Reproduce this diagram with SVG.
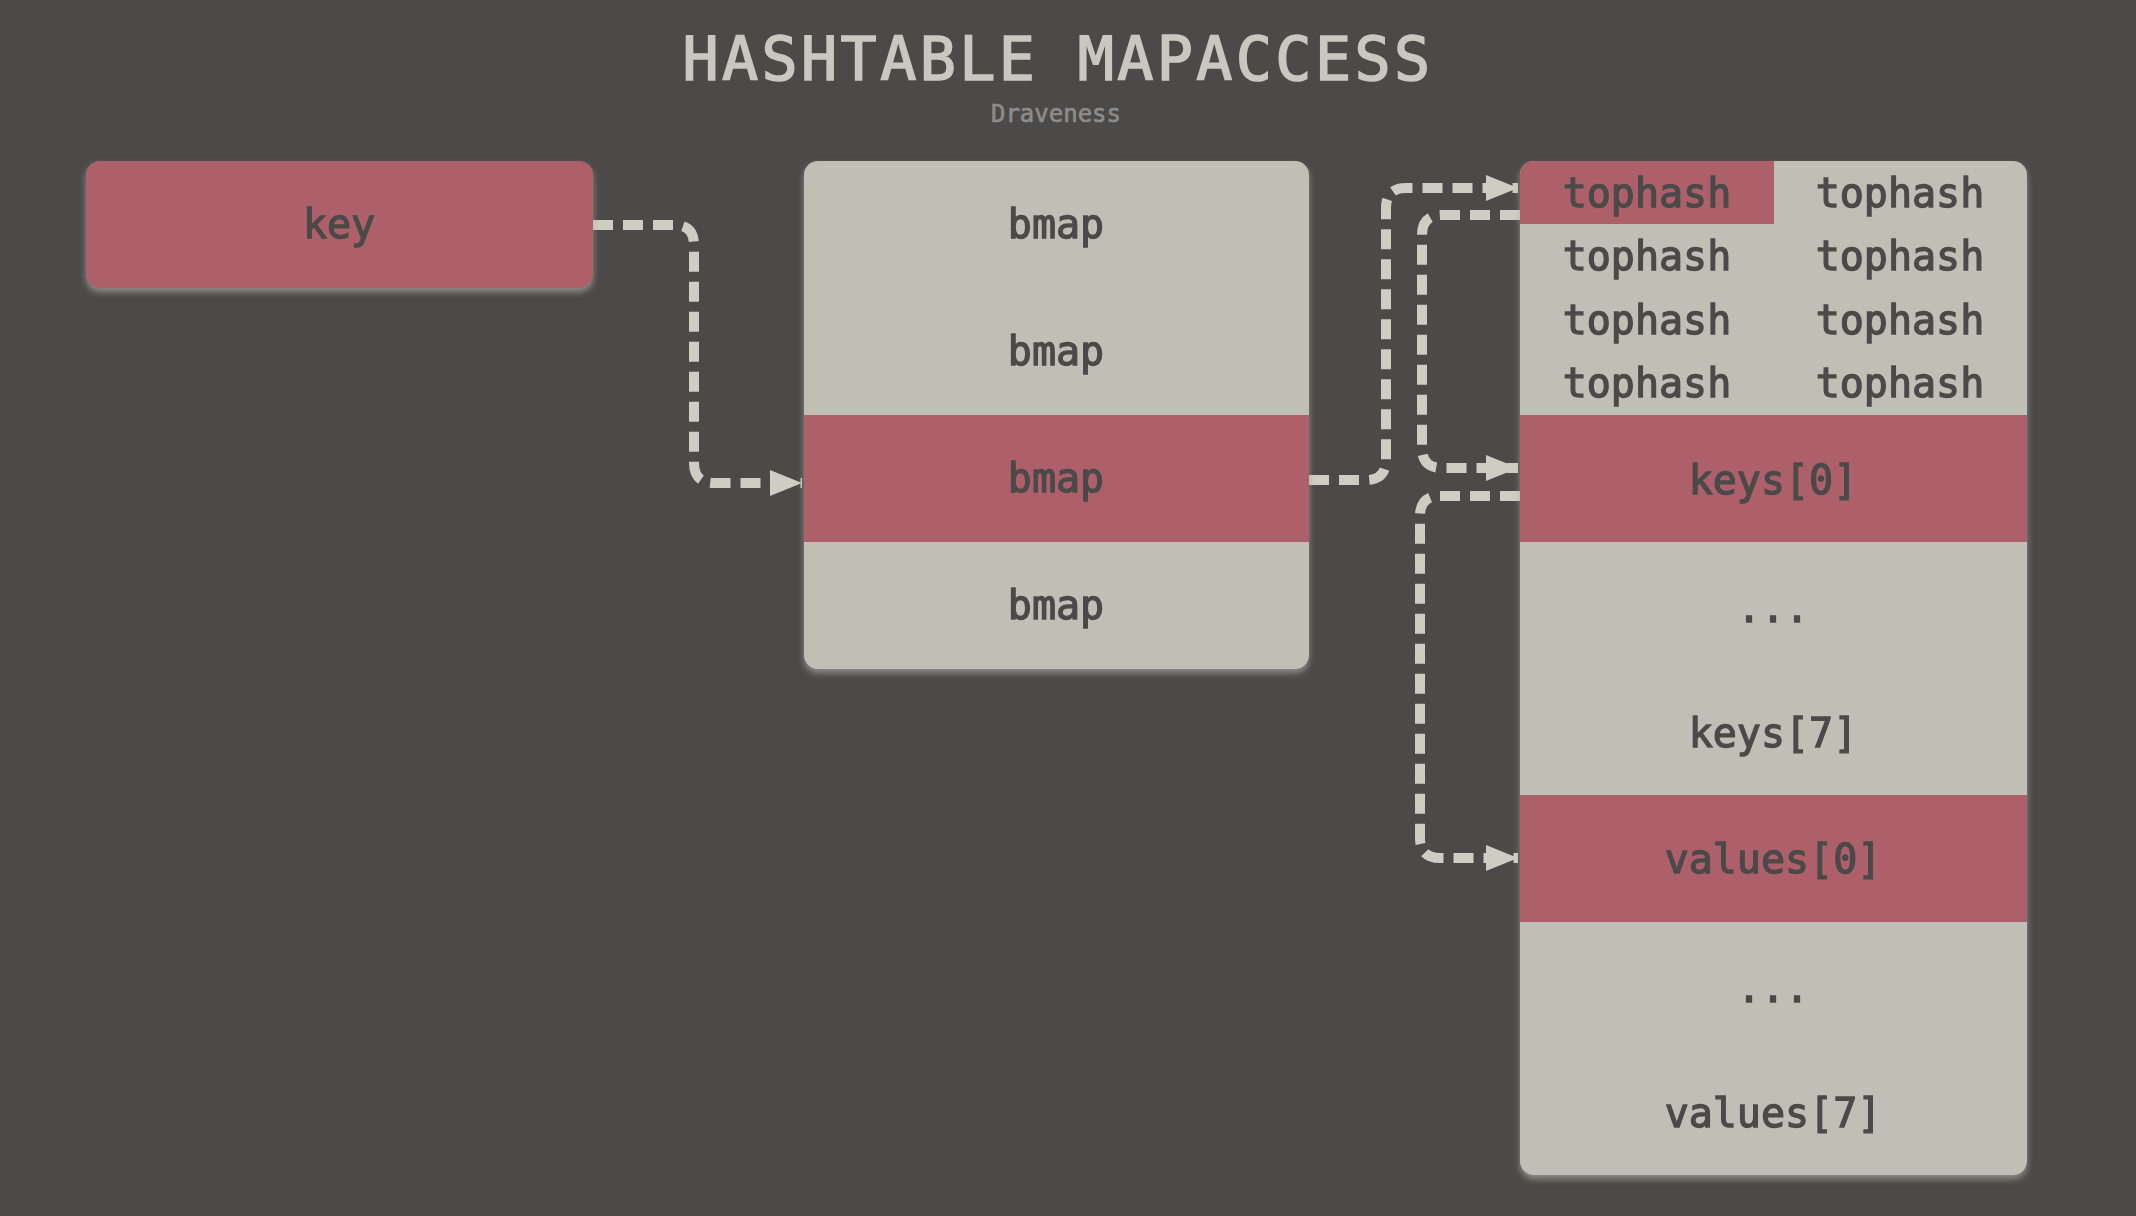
<svg xmlns="http://www.w3.org/2000/svg" width="2136" height="1216" viewBox="0 0 2136 1216">
  <style>
    .bg { fill: #4b4a49; }
    .light { fill: #bfbfb6; }
    .red { fill: #ad6169; }
    .lbl { font-family: "DejaVu Sans Mono", "Liberation Mono", monospace; font-size: 40px; fill: #4b4948; stroke: #4b4948; stroke-width: 1.3px; text-anchor: middle; }
    .title { font-family: "DejaVu Sans Mono", "Liberation Mono", monospace; font-size: 60px; fill: #c8c8c0; stroke: #c8c8c0; stroke-width: 1.6px; text-anchor: middle; letter-spacing: 3.4px; }
    .sub { font-family: "DejaVu Sans Mono", "Liberation Mono", monospace; font-size: 24px; fill: #8e8c8a; stroke: #8e8c8a; stroke-width: 0.6px; text-anchor: middle; }
    .conn { fill: none; stroke: #cdcdc4; stroke-width: 10; stroke-dasharray: 20 10; stroke-linejoin: round; }
  </style>
  <defs>
    <filter id="glow" x="-10%" y="-10%" width="120%" height="120%">
      <feGaussianBlur in="SourceAlpha" stdDeviation="3" result="b"/>
      <feOffset in="b" dy="4" result="o"/>
      <feFlood flood-color="#a8a8a0" flood-opacity="0.7"/>
      <feComposite in2="o" operator="in" result="s"/>
      <feMerge><feMergeNode in="s"/><feMergeNode in="SourceGraphic"/></feMerge>
    </filter>
    <marker id="arrow" markerUnits="userSpaceOnUse" markerWidth="34" markerHeight="28" refX="32" refY="14" orient="auto">
      <path d="M0,1 L32,14 L0,27 Z" fill="#cdcdc4"/>
    </marker>
    <clipPath id="clipBmap"><rect x="804" y="161" width="505" height="508" rx="14"/></clipPath>
    <clipPath id="clipBucket"><rect x="1520" y="161" width="507" height="1014" rx="14"/></clipPath>
  </defs>

  <rect class="bg" x="0" y="0" width="2136" height="1216"/>

  <g id="title">
    <text class="title" x="1058" y="80">HASHTABLE MAPACCESS</text>
    <text class="sub" x="1056" y="122">Draveness</text>
  </g>

  <g id="connectors">
    <path class="conn" d="M593,225 H674 Q694,225 694,245 V463 Q694,483 714,483 H802" marker-end="url(#arrow)"/>
    <path class="conn" d="M1309,480 H1366 Q1386,480 1386,460 V208 Q1386,188 1406,188 H1518" marker-end="url(#arrow)"/>
    <path class="conn" d="M1520,215 H1442 Q1422,215 1422,235 V448 Q1422,468 1442,468 H1518" marker-end="url(#arrow)"/>
    <path class="conn" d="M1520,496 H1440 Q1420,496 1420,516 V838 Q1420,858 1440,858 H1518" marker-end="url(#arrow)"/>
  </g>

  <g id="key" filter="url(#glow)">
    <rect class="red" x="86" y="161" width="507" height="127" rx="14"/>
    <text class="lbl" x="339" y="238">key</text>
  </g>

  <g id="buckets" filter="url(#glow)">
    <g clip-path="url(#clipBmap)">
      <rect class="light" x="804" y="161" width="505" height="508"/>
      <rect class="red" x="804" y="415" width="505" height="127"/>
    </g>
    <text class="lbl" x="1056" y="238">bmap</text>
    <text class="lbl" x="1056" y="365">bmap</text>
    <text class="lbl" x="1056" y="492">bmap</text>
    <text class="lbl" x="1056" y="619">bmap</text>
  </g>

  <g id="bucket" filter="url(#glow)">
    <g clip-path="url(#clipBucket)">
      <rect class="light" x="1520" y="161" width="507" height="1014"/>
      <rect class="red" x="1520" y="161" width="254" height="63"/>
      <rect class="red" x="1520" y="415" width="507" height="127"/>
      <rect class="red" x="1520" y="795" width="507" height="127"/>
    </g>
    <text class="lbl" x="1647" y="207">tophash</text>
    <text class="lbl" x="1900" y="207">tophash</text>
    <text class="lbl" x="1647" y="270">tophash</text>
    <text class="lbl" x="1900" y="270">tophash</text>
    <text class="lbl" x="1647" y="334">tophash</text>
    <text class="lbl" x="1900" y="334">tophash</text>
    <text class="lbl" x="1647" y="397">tophash</text>
    <text class="lbl" x="1900" y="397">tophash</text>
    <text class="lbl" x="1773" y="494">keys[0]</text>
    <text class="lbl" x="1773" y="622">...</text>
    <text class="lbl" x="1773" y="747">keys[7]</text>
    <text class="lbl" x="1773" y="873">values[0]</text>
    <text class="lbl" x="1773" y="1002">...</text>
    <text class="lbl" x="1773" y="1127">values[7]</text>
  </g>
</svg>
